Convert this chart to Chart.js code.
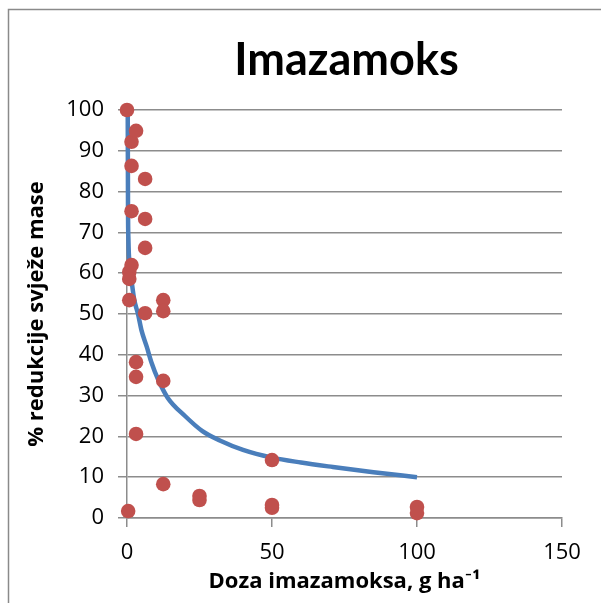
<!DOCTYPE html>
<html>
<head>
<meta charset="utf-8">
<script src="https://cdn.jsdelivr.net/npm/chart.js@4.4.1/dist/chart.umd.min.js"></script>
<style>
  html, body { margin: 0; padding: 0; background: #ffffff; }
  #wrap { position: relative; width: 601px; height: 603px; }
</style>
</head>
<body>
<div id="wrap"><canvas id="c" width="601" height="603"></canvas></div>
<script>
// Observed points: dose (g ha-1) and % reduction of fresh mass
const doseValues = [0, 0.78, 0.78, 0.78, 0.4,
  1.56, 1.56, 1.56, 1.56,
  3.125, 3.125, 3.125, 3.125,
  6.25, 6.25, 6.25, 6.25,
  12.5, 12.5, 12.5, 12.5,
  25, 25,
  50, 50, 50,
  100, 100];
const reductionValues = [100, 60.3, 58.6, 53.4, 1.7,
  92.2, 86.3, 75.2, 62,
  94.9, 38.2, 34.6, 20.6,
  83.1, 73.3, 66.2, 50.2,
  53.4, 50.7, 33.6, 8.3,
  5.4, 4.4,
  14.2, 3.2, 2.5,
  2.7, 1.2];

// Trend curve
const trendX = [0.25, 0.35, 0.5, 0.9, 1.6, 2.5, 3.8, 5, 6.8, 8.5, 10.7, 14, 20, 26, 32, 40, 50, 60, 71, 85, 100];
const trendY = [100, 76, 68, 62, 58, 53.5, 50, 46, 42, 38, 34, 29.5, 25, 21.3, 19, 16.7, 14.8, 13.6, 12.5, 11.2, 10];

const xTicks = [0, 50, 100, 150];
const yTicks = [0, 10, 20, 30, 40, 50, 60, 70, 80, 90, 100];

const chartTitle = 'Imazamoks';
const xTitle = 'Doza imazamoksa, g ha\u207B\u00B9';
const yTitle = '% redukcije svježe mase';

const TITLE_FONT = 'Lato, "Open Sans", sans-serif';
const FONT = '"Open Sans", Lato, "Liberation Sans", sans-serif';
const GRID = '#8c8c8c';

const frame = {
  id: 'frame',
  beforeDraw(chart) {
    const ctx = chart.ctx;
    ctx.save();
    ctx.fillStyle = '#ffffff';
    ctx.fillRect(0, 0, chart.width, chart.height);
    ctx.strokeStyle = '#8a8a8a';
    ctx.lineWidth = 1.5;
    ctx.strokeRect(8.5, 9.5, chart.width + 20, chart.height + 20);
    ctx.restore();
  },
  afterDraw(chart) {
    const ctx = chart.ctx;
    const a = chart.chartArea;
    ctx.save();
    ctx.fillStyle = '#000000';
    ctx.font = 'bold 45px ' + TITLE_FONT;
    ctx.textAlign = 'center';
    ctx.textBaseline = 'middle';
    ctx.fillText(chartTitle, (a.left + a.right) / 2 + 2, 60);
    ctx.restore();
  }
};

new Chart(document.getElementById('c'), {
  type: 'scatter',
  data: {
    datasets: [
      {
        label: 'Podaci',
        data: doseValues.map((x, i) => ({ x: x, y: reductionValues[i] })),
        backgroundColor: '#c0504d',
        borderColor: '#c0504d',
        pointRadius: 7.3,
        pointBorderWidth: 0,
        showLine: false,
        clip: false
      },
      {
        label: 'Trend',
        type: 'line',
        data: trendX.map((x, i) => ({ x: x, y: trendY[i] })),
        borderColor: '#4a7ebb',
        borderWidth: 4.5,
        pointRadius: 0,
        fill: false,
        cubicInterpolationMode: 'monotone',
        clip: false
      }
    ]
  },
  plugins: [frame],
  options: {
    responsive: false,
    animation: false,
    devicePixelRatio: 1,
    layout: { padding: { left: 16, right: 39, top: 110, bottom: 0 } },
    plugins: {
      legend: { display: false },
      tooltip: { enabled: false },
      title: { display: false }
    },
    scales: {
      x: {
        type: 'linear',
        min: 0,
        max: 150,
        afterBuildTicks(axis) { axis.ticks = xTicks.map(v => ({ value: v })); },
        afterFit(axis) { axis.height = 85; },
        ticks: {
          color: '#000000',
          font: { family: FONT, size: 22 },
          padding: 13,
          maxRotation: 0
        },
        grid: {
          display: true,
          drawOnChartArea: false,
          drawTicks: true,
          tickLength: 9,
          color: GRID,
          lineWidth: 1.5
        },
        border: { display: true, color: GRID, width: 1.5 },
        title: {
          display: true,
          text: xTitle,
          color: '#000000',
          font: { family: FONT, size: 22, weight: 'bold', lineHeight: 1.2 },
          padding: { top: 0, bottom: 8 }
        }
      },
      y: {
        type: 'linear',
        min: 0,
        max: 100,
        afterBuildTicks(axis) { axis.ticks = yTicks.map(v => ({ value: v })); },
        afterFit(axis) { axis.width = 111; },
        ticks: {
          color: '#000000',
          font: { family: FONT, size: 22 },
          padding: 14
        },
        grid: {
          display: true,
          drawOnChartArea: true,
          drawTicks: true,
          tickLength: 9,
          color: GRID,
          lineWidth: 1.5
        },
        border: { display: true, color: GRID, width: 1.5 },
        title: {
          display: true,
          text: yTitle,
          color: '#000000',
          font: { family: FONT, size: 22, weight: 'bold', lineHeight: 1.2 },
          padding: { top: 8, bottom: 0 }
        }
      }
    }
  }
});
</script>
</body>
</html>
